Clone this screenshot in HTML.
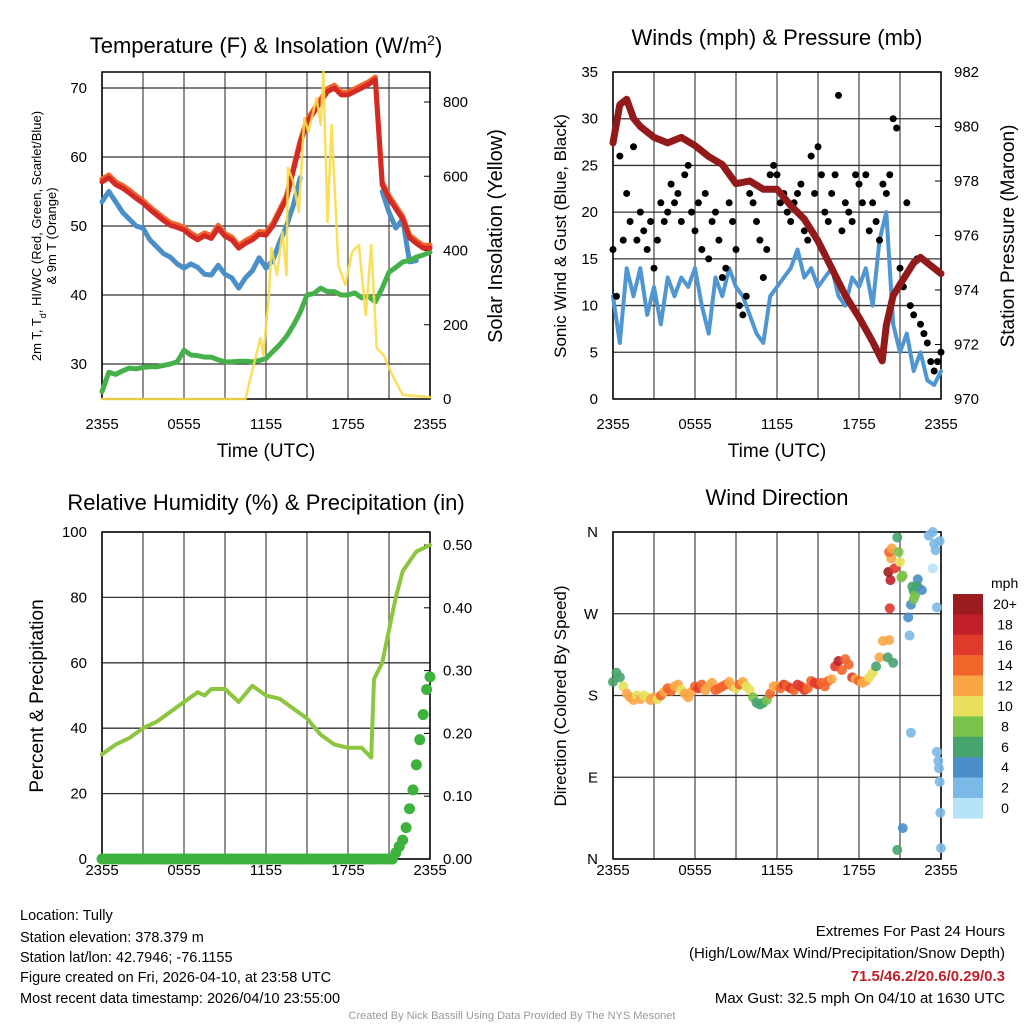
<!DOCTYPE html>
<html><head><meta charset="utf-8"><style>
html,body{margin:0;padding:0;background:#fff;}
svg{display:block;font-family:"Liberation Sans",Arial,sans-serif;}
</style></head><body>
<svg id="fig" width="1024" height="1024" viewBox="0 0 1024 1024">
<g id="layer"></g>
<g>
<text x="266" y="53" text-anchor="middle" font-size="22">Temperature (F) &amp; Insolation (W/m<tspan baseline-shift="super" font-size="14">2</tspan>)</text>
<text x="777" y="45" text-anchor="middle" font-size="22">Winds (mph) &amp; Pressure (mb)</text>
<text x="266" y="510" text-anchor="middle" font-size="22">Relative Humidity (%) &amp; Precipitation (in)</text>
<text x="777" y="505" text-anchor="middle" font-size="22">Wind Direction</text>
<text x="266" y="457" text-anchor="middle" font-size="19">Time (UTC)</text>
<text x="777" y="457" text-anchor="middle" font-size="19">Time (UTC)</text>
<text transform="translate(41,236) rotate(-90)" text-anchor="middle" font-size="13">2m T, T<tspan baseline-shift="sub" font-size="9">d</tspan>, HI/WC (Red, Green, Scarlet/Blue)</text>
<text transform="translate(56,236) rotate(-90)" text-anchor="middle" font-size="13">&amp; 9m T (Orange)</text>
<text transform="translate(502,236) rotate(-90)" text-anchor="middle" font-size="20">Solar Insolation (Yellow)</text>
<text transform="translate(566,236) rotate(-90)" text-anchor="middle" font-size="17">Sonic Wind &amp; Gust (Blue, Black)</text>
<text transform="translate(1014,236) rotate(-90)" text-anchor="middle" font-size="19">Station Pressure (Maroon)</text>
<text transform="translate(43,696) rotate(-90)" text-anchor="middle" font-size="19">Percent &amp; Precipitation</text>
<text transform="translate(566,696) rotate(-90)" text-anchor="middle" font-size="17">Direction (Colored By Speed)</text>
<text x="991" y="588" font-size="14">mph</text>
<g font-size="14.5">
<text x="20" y="920">Location: Tully</text>
<text x="20" y="942">Station elevation: 378.379 m</text>
<text x="20" y="962">Station lat/lon: 42.7946; -76.1155</text>
<text x="20" y="982">Figure created on Fri, 2026-04-10, at 23:58 UTC</text>
<text x="20" y="1003">Most recent data timestamp: 2026/04/10 23:55:00</text>
</g>
<g font-size="15" text-anchor="end">
<text x="1005" y="936">Extremes For Past 24 Hours</text>
<text x="1005" y="958">(High/Low/Max Wind/Precipitation/Snow Depth)</text>
<text x="1005" y="981" fill="#c1202a" font-weight="bold">71.5/46.2/20.6/0.29/0.3</text>
<text x="1005" y="1003">Max Gust: 32.5 mph On 04/10 at 1630 UTC</text>
</g>
<text x="512" y="1019" text-anchor="middle" font-size="11" fill="#999">Created By Nick Bassill Using Data Provided By The NYS Mesonet</text>
</g>
</svg>
<script>
const tempT = [56.4,57,56,55.5,54.8,54,53.3,52.4,51.6,50.8,50.1,49.8,49.4,48.6,48,48.6,48.2,49.7,48.5,48,46.8,47.5,48,48.8,48.7,50,52,54,58,62,65,66.5,68,69.5,70,69,69,69.5,70,70.5,71.2,56,54,52.5,51,48.3,47.5,46.8,46.8];
const tempWC = [53.5,55,53.5,52,51,50,49.7,48,47,46,45.5,44.5,43.9,44.5,44,43,42.9,44.3,43,42.5,41,42.5,43.5,45.4,43.9,45,47.7,50,53,57,null,null,null,null,null,null,null,null,null,null,null,55,52,49.7,51,44.8,45,null,null];
const tempTd = [26,28.8,28.5,29,29.4,29.3,29.5,29.6,29.6,29.8,30,30.3,32,31.3,31.2,31,31,30.6,30.3,30.3,30.4,30.4,30.3,30.5,30.8,31.8,32.8,34,35.6,37.5,40,40.2,41,40.5,40.5,40,40,40.3,39.6,39.8,39,41,43.3,44,44.8,45,45.5,45.8,46.2];
const solarHours = [0,10.5,11.1,11.6,11.8,12.2,12.4,12.8,13.2,13.5,13.6,14,14.4,14.8,15.1,15.7,16,16.2,16.5,16.8,17.3,17.8,18.3,18.8,19.3,19.7,20.1,20.6,21.3,22,23,24];
const solarVals = [0,0,92,164,119,272,407,334,450,334,623,585,504,757,720,811,738,881,477,738,361,307,396,415,226,415,137,119,60,11,8,5];
const tempTicks = [30,40,50,60,70];
const solarTicks = [0,200,400,600,800];
const timeLabels = ["2355","0555","1155","1755","2355"];
const windSpd = [11,6,14,11,14,9,12,8,13,11,13,12,14,10,7,13,11,14,12,11,9,7,6,11,12,13,14,16,13,14,12,13,14,11,10,13,12,14,10,17,20,8,5,7,3,5,2,1.5,3];
const gustSpd = [16,11,26,17,22,19,27,17,20,18,16,19,14,17,21,19,20,23,21,22,19,24,25,20,18,21,16,22,15,19,20,17,13,14,21,19,16,10,9,11,22,21,19,17,13,16,24,25,24,21,22,20,19,21,22,23,18,17,26,22,27,24,20,19,22,24,32.5,18,21,20,19,24,23,21,24,18,21,19,17,23,22,24,30,29,14,12,21,10,9,15,8,7,6,4,3,4,5];
const pressHours = [0,0.5,1,1.5,2,3,4,5,6,7,8,9,10,11,12,13,14,15,16,17,18,19,19.7,20,20.5,21,22,22.5,23,24];
const pressVals = [979.4,980.8,981.0,980.3,980,979.6,979.4,979.6,979.3,978.9,978.6,977.9,978,977.7,977.7,977.1,976.6,975.8,974.8,973.8,973,972.1,971.4,972.7,973.8,974.2,975,975.2,975,974.6];
const windTicks = [0,5,10,15,20,25,30,35];
const pressTicks = [970,972,974,976,978,980,982];
const rhHours = [0,1,2,3,4,5,6,7,7.5,8,9,10,11,12,13,14,15,16,17,18,19,19.7,19.9,20.5,21,21.5,22,23,24];
const rhVals = [32,35,37,40,42,45,48,51,50,52,52,48,53,50,49,46,43,38,35,34,34,31,55,60,70,80,88,94,96];
const precipHours = [21.5,21.75,22,22.25,22.5,22.75,23,23.25,23.5,23.75,24];
const precipVals = [0.01,0.02,0.03,0.05,0.08,0.11,0.15,0.19,0.23,0.27,0.29];
const rhTicks = [0,20,40,60,80,100];
const precipTicks = [0,0.1,0.2,0.3,0.4,0.5];
const wdMainDir = [195,205,200,190,182,178,175,180,176,180,178,175,178,176,180,184,188,185,190,192,186,182,178,184,190,188,192,186,190,194,186,188,190,192,195,190,188,192,195,190,186,178,172,170,172,175,182,190,190,188,192,190,188,186,192,190,186,188,196,194,192,194,190,196,198,212,218,208,220,214,200,198,196,194,196,200,205,212,222,240];
const wdMainSpd = [7,6,7,11,12,13,12,11,12,10,11,12,13,11,14,12,14,15,13,12,11,12,12,13,15,16,14,13,12,13,14,15,15,14,12,13,11,14,13,10,11,8,7,6,7,9,14,13,13,15,16,15,16,15,17,16,16,14,15,16,17,15,14,15,13,16,18,15,15,14,16,13,14,12,13,11,10,6,12,13];
const wdSparseHour = [20.1,20.2,20.25,20.3,20.15,20.35,20.2,20.4,20.5,20.6,20.8,20.9,21.0,21.1,21.2,20.8,21.2,21.6,21.7,21.8,21.9,22.0,22.1,22.2,22.3,21.8,22.0,22.3,22.6,23.1,23.4,23.5,23.6,23.4,23.7,23.7,23.8,23.85,23.9,23.95,24.0,23.9];
const wdSparseDir = [222,241,276,307,316,331,338,342,216,320,354,338,327,310,312,10,34,266,246,139,300,295,290,300,308,280,286,300,296,356,360,347,340,320,277,118,108,100,85,51,12,350];
const wdSparseSpd = [6,12,17,19,20,12,14,13,6,16,6,8,10,9,8,7,4,4,2,2,6,7,8,6,5,4,8,7,5,2,2,3,2,1,2,2,2,2,2,2,2,3];
const barLabels = ["20+","18","16","14","12","10","8","6","4","2","0"];
const barColors = ["#9b1c1f","#c1202a","#e03a2c","#f2652a","#f9a646","#e8e05a","#7bc24b","#46a46d","#4a8fc8","#7cb9e6","#b6e3f8"];

const NS="http://www.w3.org/2000/svg";
const layer=document.getElementById('layer');
function mk(tag,attrs,parent){const e=document.createElementNS(NS,tag);for(const k in attrs)e.setAttribute(k,attrs[k]);(parent||layer).appendChild(e);return e;}
function txt(s,attrs,parent){const e=mk('text',attrs,parent);e.textContent=s;return e;}
function lin(a,b,c,d){return v=>c+(v-a)*(d-c)/(b-a);}

const P1={x0:102,x1:430,y0:399,y1:72,lab:30};
const P2={x0:613,x1:941,y0:399,y1:72,lab:30};
const P3={x0:102,x1:430,y0:859,y1:532,lab:16};
const P4={x0:613,x1:941,y0:859,y1:532,lab:16};

function frame(P,name,leftTicks,yl,fmtL,rightTicks,yr,fmtR){
  const g=mk('g',{});
  
  
  for(let i=0;i<=8;i++){const x=P.x0+i*(P.x1-P.x0)/8;
    const l=mk('line',{x1:x,x2:x,y1:P.y1,y2:P.y0,stroke:'#555','stroke-width':1.3},g);
    
    }
  leftTicks.forEach(v=>{const y=yl(v);
    const l=mk('line',{x1:P.x0,x2:P.x1,y1:y,y2:y,stroke:'#333','stroke-width':1.3},g);
    
    
    const t=txt(fmtL(v),{x:P.x0-15,y:y+5,'text-anchor':'end','font-size':15},g);
    
    });
  if(rightTicks)rightTicks.forEach(v=>{const y=yr(v);
    mk('line',{x1:P.x1-6,x2:P.x1,y1:y,y2:y,stroke:'#000'},g);
    const t=txt(fmtR(v),{x:P.x1+13,y:y+5,'font-size':15},g);
    
    });
  timeLabels.forEach((s,i)=>{const x=P.x0+i*(P.x1-P.x0)/4;
    const t=txt(s,{x:x,y:P.y0+P.lab,'text-anchor':'middle','font-size':15},g);
    
    });
  mk('rect',{x:P.x0,y:P.y1,width:P.x1-P.x0,height:P.y0-P.y1,fill:'none',stroke:'#000','stroke-width':1.5},g);
  return g;
}
function path(xs,ys,sx,sy,color,w,name,op){
  let d='',pen=false;
  for(let i=0;i<xs.length;i++){if(ys[i]==null){pen=false;continue;}
    d+=(pen?'L':'M')+sx(xs[i]).toFixed(1)+' '+sy(ys[i]).toFixed(1);pen=true;}
  const p=mk('path',{d:d,fill:'none',stroke:color,'stroke-width':w,'stroke-linejoin':'round','stroke-linecap':'round',opacity:op||1});
  
  
  return p;
}
const half=a=>a.map((_,i)=>i*0.5);

const x1s=lin(0,24,P1.x0,P1.x1), y1l=lin(70,30,88,364), y1r=lin(0,800,399,102);
frame(P1,'temperature-frame',tempTicks,y1l,v=>v,solarTicks,y1r,v=>v);
path(half(tempWC),tempWC,x1s,y1l,'#4a8fc8',5,'windchill-line');
path(half(tempTd),tempTd,x1s,y1l,'#46b04a',5,'dewpoint-line');
path(half(tempT),tempT.map(v=>v+0.4),x1s,y1l,'#f2652a',5,'temp-9m-line');
path(half(tempT),tempT,x1s,y1l,'#d42a25',5,'temp-2m-line');
path(solarHours,solarVals,x1s,y1r,'#f8dc4a',2.5,'solar-line',0.9);

const x2s=lin(0,24,P2.x0,P2.x1), y2l=lin(0,35,399,72), y2r=lin(970,982,399,72);
frame(P2,'winds-frame',windTicks,y2l,v=>v,pressTicks,y2r,v=>v);
path(half(windSpd),windSpd,x2s,y2l,'#4f96d2',4,'sonic-wind-line');
gustSpd.forEach((v,i)=>{const c=mk('circle',{cx:x2s(i*0.25),cy:y2l(v),r:3.5,fill:'#000'});
  
  });
path(pressHours,pressVals,x2s,y2r,'#931a1a',7,'pressure-line');

const x3s=lin(0,24,P3.x0,P3.x1), y3l=lin(0,100,859,532), y3r=lin(0,0.5,859,545);
frame(P3,'humidity-frame',rhTicks,y3l,v=>v,precipTicks,y3r,v=>v.toFixed(2));
for(let i=0;i<=96;i++){const h=i*0.25;const k=precipHours.indexOf(h);const v=k>=0?precipVals[k]:0;
  const c=mk('circle',{cx:x3s(h),cy:y3r(v),r:5.5,fill:'#3db33d'});
  
  }
path(rhHours,rhVals,x3s,y3l,'#8cc63f',4,'rh-line');

const x4s=lin(0,24,P4.x0,P4.x1), y4l=lin(0,360,859,532);
frame(P4,'direction-frame',[0,90,180,270,360],y4l,v=>({0:'N',90:'E',180:'S',270:'W',360:'N'})[v],null,null,null);
function spdColor(s){let k=Math.min(10,Math.floor(s/2));return barColors[10-k];}
function wdot(h,d,s){const c=mk('circle',{cx:x4s(h),cy:y4l(d),r:5,fill:spdColor(s),opacity:0.9});
  
  }
wdMainDir.forEach((d,i)=>wdot(i*0.25,d,wdMainSpd[i]));
wdSparseDir.forEach((d,i)=>wdot(wdSparseHour[i],d,wdSparseSpd[i]));
const cb=mk('g',{});


barColors.forEach((c,i)=>{mk('rect',{x:953,y:594+i*20.4,width:30,height:20.6,fill:c},cb);
  const t=txt(barLabels[i],{x:1005,y:594+i*20.4+15,'text-anchor':'middle','font-size':14},cb);
  
  });
</script>
</body></html>
